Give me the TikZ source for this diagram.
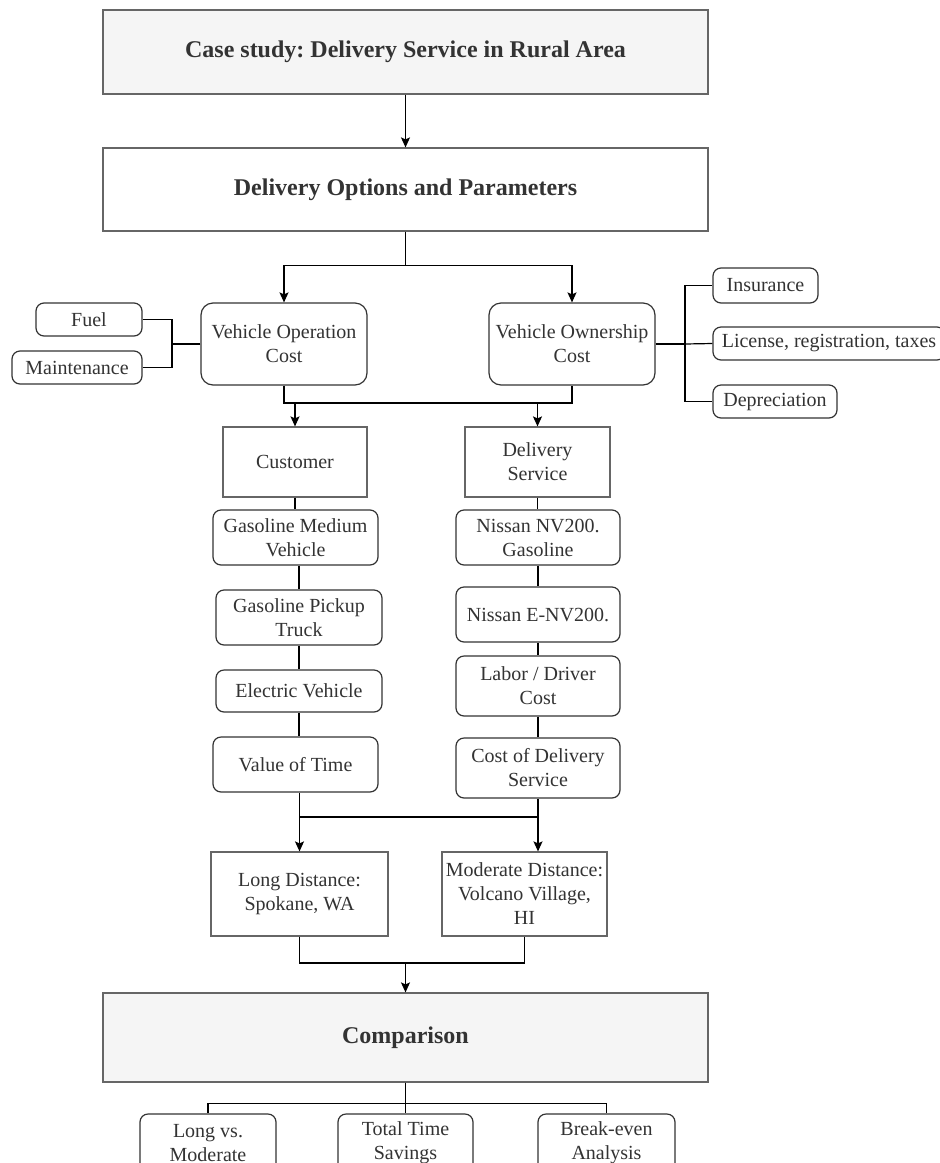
\documentclass[tikz,border=0pt]{standalone}
\usepackage{fontspec}
\setmainfont{Liberation Serif}
\definecolor{boxgray}{RGB}{245, 245, 245}
\definecolor{linegray}{RGB}{102, 102, 102}
\definecolor{textgray}{RGB}{51, 51, 51}
\usetikzlibrary{arrows.meta,positioning}
\frenchspacing

\begin{document}
\begin{tikzpicture}[x=1pt, y=-1pt,
    every node/.style={font=\fontsize{20}{24}\selectfont, text=textgray, align=center, inner sep=0pt},
    head/.style={draw=linegray, line width=1.2pt, fill=boxgray, minimum width=605pt, font=\fontsize{24}{29}\selectfont\bfseries},
    plainbox/.style={draw=linegray, line width=1.2pt, fill=white},
    rbox/.style={draw=textgray, line width=1.2pt, rounded corners=8pt, fill=white},
    link/.style={line width=1.2pt, black},
    arr/.style={link, -{Stealth[length=10pt, width=9pt, inset=2pt]}}]
    \useasboundingbox (0,0) rectangle (940,1163);

    % Top boxes
    \node[head, minimum height=84pt] (title) at (405.5,52) {Case study: Delivery Service in Rural Area};
    \node[head, fill=white, minimum height=83pt] (opts) at (405.5,189.5) {Delivery Options and Parameters};
    \draw[arr] (title) -- (opts);

    % Cost groups
    \node[rbox, minimum width=166pt, minimum height=82pt, rounded corners=12pt] (voc) at (284,344) {Vehicle Operation\\Cost};
    \node[rbox, minimum width=166pt, minimum height=82pt, rounded corners=12pt] (vos) at (572,344) {Vehicle Ownership\\Cost};
    \draw[arr] (opts.south) -- ++(0,34) -| (voc.north);
    \draw[arr] (opts.south) -- ++(0,34) -| (vos.north);

    \node[rbox, minimum width=106pt, minimum height=33pt] (fuel) at (89,319.5) {Fuel};
    \node[rbox, minimum width=130pt, minimum height=33pt] (maint) at (77,367.5) {Maintenance};
    \coordinate (opj) at (172,344);
    \draw[link] (voc.west) -- (opj);
    \draw[link] (fuel.east) -| (opj);
    \draw[link] (maint.east) -| (opj);

    \node[rbox, minimum width=105pt, minimum height=35pt] (ins) at (765.5,285.5) {Insurance};
    \node[rbox, minimum width=232pt, minimum height=33pt] (lic) at (829,343.5) {License, registration, taxes};
    \node[rbox, minimum width=124pt, minimum height=33pt] (dep) at (775,401.5) {Depreciation};
    \coordinate (owj) at (685,344);
    \draw[link] (vos.east) -- (owj);
    \draw[link] (owj) |- (ins.west);
    \draw[link] (owj) -- (lic.west);
    \draw[link] (owj) |- (dep.west);

    % Two sides
    \node[plainbox, minimum width=144pt, minimum height=70pt] (cust) at (295,462) {Customer};
    \node[plainbox, minimum width=145pt, minimum height=70pt] (dserv) at (537.5,462) {Delivery\\Service};
    \coordinate (costj) at (420,403);
    \draw[link] (voc.south) |- (costj) -| (vos.south);
    \draw[arr] (cust.north |- costj) -- (cust.north);
    \draw[arr] (dserv.north |- costj) -- (dserv.north);

    % Customer vehicles
    \node[rbox, minimum width=165pt, minimum height=55pt] (gmv) at (295.5,537.5) {Gasoline Medium\\Vehicle};
    \node[rbox, minimum width=166pt, minimum height=55pt] (gpt) at (299,617.5) {Gasoline Pickup\\Truck};
    \node[rbox, minimum width=166pt, minimum height=42pt] (ev) at (299,691) {Electric Vehicle};
    \node[rbox, minimum width=165pt, minimum height=55pt] (vot) at (295.5,764.5) {Value of Time};
    \draw[link] (cust.south) -- (cust.south |- gmv.north);
    \draw[link] (gpt.north |- gmv.south) -- (gpt.north);
    \draw[link] (gpt.south) -- (ev.north);
    \draw[link] (ev.south) -- (ev.south |- vot.north);

    % Delivery service vans
    \node[rbox, minimum width=164pt, minimum height=55pt] (nv) at (538,537.5) {Nissan NV200.\\Gasoline};
    \node[rbox, minimum width=164pt, minimum height=55pt] (env) at (538,614.5) {Nissan E-NV200.};
    \node[rbox, minimum width=164pt, minimum height=60pt] (labor) at (538,686) {Labor / Driver\\Cost};
    \node[rbox, minimum width=164pt, minimum height=60pt] (cds) at (538,768) {Cost of Delivery\\Service};
    \draw[link] (dserv.south) -- (dserv.south |- nv.north);
    \draw[link] (nv) -- (env);
    \draw[link] (env) -- (labor);
    \draw[link] (labor) -- (cds);

    % Distances
    \node[plainbox, minimum width=177pt, minimum height=84pt] (ld) at (299.5,894) {Long Distance:\\Spokane, WA};
    \node[plainbox, minimum width=165pt, minimum height=84pt] (md) at (524.5,894) {Moderate Distance:\\Volcano Village,\\HI};
    \coordinate (distj) at (420,817);
    \draw[link] (ld.north |- vot.south) -- (ld.north |- distj) -- (cds.south |- distj) -- (cds.south);
    \draw[arr] (ld.north |- distj) -- (ld.north);
    \draw[arr] (cds.south |- distj) -- (cds.south |- md.north);

    % Comparison
    \node[head, minimum height=89pt] (comp) at (405.5,1037.5) {Comparison};
    \coordinate (compj) at (405.5,963);
    \draw[link] (ld.south) |- (compj) -| (md.south);
    \draw[arr] (compj) -- (comp.north);

    \node[rbox, minimum width=136pt, minimum height=58pt] (lvm) at (208,1143) {Long vs.\\Moderate};
    \node[rbox, minimum width=135pt, minimum height=58pt] (tts) at (405.5,1143) {Total Time\\Savings};
    \node[rbox, minimum width=137pt, minimum height=58pt] (bea) at (606.5,1143) {Break-even\\Analysis};
    \draw[link] (comp.south) -- ++(0,21) -| (lvm.north);
    \draw[link] (comp.south) -- ++(0,21) -| (bea.north);
    \draw[link] (comp.south) -- (tts.north);
\end{tikzpicture}
\end{document}
